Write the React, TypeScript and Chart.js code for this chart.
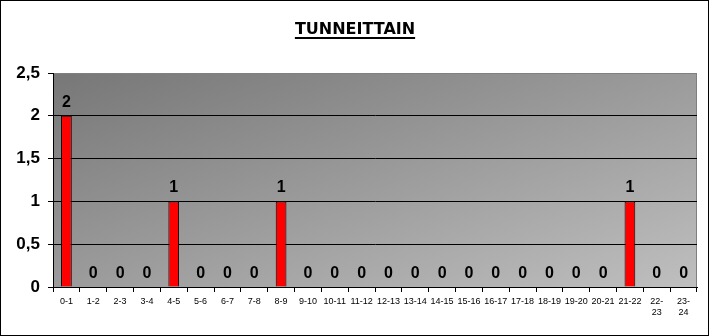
import React, { useEffect, useRef } from "react";
import { Chart, registerables } from "chart.js";

Chart.register(...registerables);

const TITLE = "TUNNEITTAIN";
const categories: (string | string[])[] = [
  "0-1", "1-2", "2-3", "3-4", "4-5", "5-6", "6-7", "7-8", "8-9", "9-10",
  "10-11", "11-12", "12-13", "13-14", "14-15", "15-16", "16-17", "17-18",
  "18-19", "19-20", "20-21", "21-22", ["22-", "23"], ["23-", "24"],
];
const values = [2, 0, 0, 0, 1, 0, 0, 0, 1, 0, 0, 0, 0, 0, 0, 0, 0, 0, 0, 0, 0, 1, 0, 0];
const yMin = 0;
const yMax = 2.5;
const yStep = 0.5;

const decorPlugin = {
  id: "decor",
  beforeDraw(chart: any) {
    const { ctx, chartArea } = chart;
    const { left, top, right, bottom } = chartArea;
    const W = right - left;
    const H = bottom - top;
    const k = (2 * W * H) / (H * H + W * W);
    const g = ctx.createLinearGradient(left, top, left + H * k, top + W * k);
    g.addColorStop(0, "#777777");
    g.addColorStop(1, "#bfbfbf");
    ctx.save();
    ctx.fillStyle = "#ffffff";
    ctx.fillRect(0, 0, chart.width, chart.height);
    ctx.fillStyle = g;
    ctx.fillRect(left, top, W, H);
    ctx.strokeStyle = "#808080";
    ctx.lineWidth = 1;
    ctx.strokeRect(left + 0.5, top + 0.5, W - 1, H);
    ctx.restore();
  },
  afterDatasetsDraw(chart: any) {
    const { ctx } = chart;
    const meta = chart.getDatasetMeta(0);
    ctx.save();
    ctx.font = "bold 16px Arial, 'Liberation Sans', sans-serif";
    ctx.fillStyle = "#000";
    ctx.textAlign = "center";
    ctx.textBaseline = "alphabetic";
    meta.data.forEach((el: any, i: number) => {
      const v = chart.data.datasets[0].data[i];
      ctx.fillText(String(v), el.x, el.y - 9);
    });
    ctx.restore();
  },
  afterDraw(chart: any) {
    const { ctx } = chart;
    ctx.save();
    ctx.font = "bold 16px 'DejaVu Sans', Arial, sans-serif";
    ctx.fillStyle = "#000";
    ctx.textAlign = "center";
    ctx.textBaseline = "alphabetic";
    const cx = 355;
    ctx.fillText(TITLE, cx, 34);
    const w = ctx.measureText(TITLE).width;
    ctx.fillRect(cx - w / 2, 37, w, 2);
    ctx.strokeStyle = "#000";
    ctx.lineWidth = 1;
    ctx.strokeRect(0.5, 0.5, 708, 335);
    ctx.restore();
  },
};

export default function App() {
  const ref = useRef<HTMLCanvasElement>(null);
  useEffect(() => {
    document.body.style.margin = "0";
    const chart = new Chart(ref.current!, {
      type: "bar",
      data: {
        labels: categories,
        datasets: [
          {
            data: values,
            backgroundColor: "#ff0000",
            borderColor: "#000000",
            borderWidth: 1,
            barPercentage: 0.4,
            categoryPercentage: 1,
          },
        ],
      },
      options: {
        animation: false,
        responsive: false,
        devicePixelRatio: 1,
        layout: { padding: { top: 73, right: 14, left: 0, bottom: 0 } },
        plugins: { legend: { display: false }, title: { display: false }, tooltip: { enabled: false } },
        scales: {
          x: {
            type: "category",
            offset: true,
            grid: { offset: true, drawOnChartArea: false, tickLength: 5, tickColor: "#000" },
            border: { display: true, color: "#000", width: 1 },
            ticks: {
              font: { family: "'Liberation Sans Narrow', Arial, sans-serif", size: 9 },
              color: "#000",
              maxRotation: 0,
              minRotation: 0,
              autoSkip: false,
              padding: 4,
            },
            afterFit(s: any) { s.height = 49; },
          },
          y: {
            min: yMin,
            max: yMax,
            grid: {
              color: (c: any) => (c.tick && c.tick.value === yMax ? "rgba(0,0,0,0)" : "#000"),
              tickColor: "#000",
              tickLength: 5,
            },
            border: { display: true, color: "#000", width: 1 },
            ticks: {
              stepSize: yStep,
              font: { family: "Arial, 'Liberation Sans', sans-serif", size: 17, weight: "bold" },
              color: "#000",
              padding: 8,
              callback: (v: any) => String(v).replace(".", ","),
            },
            afterFit(s: any) { s.width = 53; },
          },
        },
      },
      plugins: [decorPlugin],
    } as any);
    return () => chart.destroy();
  }, []);
  return <canvas ref={ref} width={711} height={336} style={{ display: "block" }} />;
}
